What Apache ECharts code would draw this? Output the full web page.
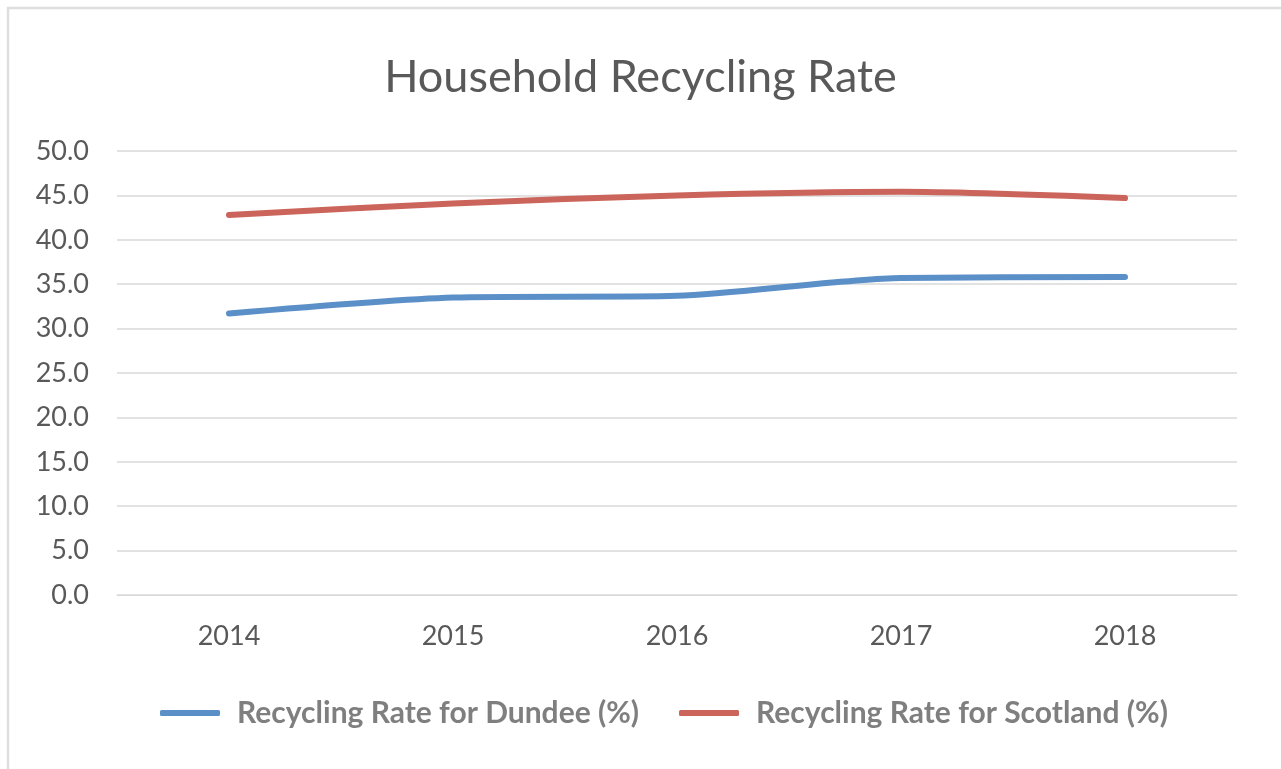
<!DOCTYPE html>
<html><head><meta charset="utf-8">
<script src="https://cdn.jsdelivr.net/npm/echarts@6/dist/echarts.min.js"></script>
<style>html,body{margin:0;padding:0;background:#fff}#c{width:1281px;height:769px}</style>
</head><body><div id="c"></div>
<script>
const years = ['2014','2015','2016','2017','2018'];
const dundee = [31.7, 33.5, 33.7, 35.7, 35.8];
const scotland = [42.8, 44.1, 45.0, 45.4, 44.7];
const seriesNames = ['Recycling Rate for Dundee (%)', 'Recycling Rate for Scotland (%)'];
const titleText = 'Household Recycling Rate';

const chart = echarts.init(document.getElementById('c'));
const font = 'Lato, "Open Sans", sans-serif';
chart.setOption({
  animation: false,
  backgroundColor: '#fff',
  graphic: [{type: 'rect', shape: {x: 8, y: 8, width: 1400, height: 900},
    style: {fill: 'none', stroke: '#dedede', lineWidth: 2.5}, silent: true}],
  title: {text: titleText, left: 'center', top: 50,
    textStyle: {fontFamily: font, fontSize: 45, fontWeight: 'normal', color: '#595959'}},
  grid: {left: 117, right: 44, top: 151, bottom: 174},
  legend: {bottom: 36, left: 155, itemWidth: 60, itemHeight: 6, itemGap: 40,
    icon: 'roundRect',
    textStyle: {fontFamily: font, fontSize: 30, fontWeight: 'bold', color: '#7f7f7f', padding: [0, 0, 0, 12]},
    data: seriesNames},
  xAxis: {type: 'category', data: years, boundaryGap: true,
    axisLine: {show: true, lineStyle: {color: '#d9d9d9'}}, axisTick: {show: false},
    axisLabel: {fontFamily: font, fontSize: 27, color: '#595959', margin: 28}},
  yAxis: {type: 'value', min: 0, max: 50, interval: 5,
    axisLine: {show: false}, axisTick: {show: false},
    splitLine: {lineStyle: {color: '#d9d9d9', width: 1.5}},
    axisLabel: {fontFamily: font, fontSize: 27, color: '#595959', margin: 28,
      formatter: v => v.toFixed(1)}},
  series: [
    {name: seriesNames[0], type: 'line', data: dundee, smooth: 0.25, symbol: 'none',
      lineStyle: {width: 6, color: '#5b8fc7', cap: 'round'}, itemStyle: {color: '#5b8fc7'}},
    {name: seriesNames[1], type: 'line', data: scotland, smooth: 0.25, symbol: 'none',
      lineStyle: {width: 6, color: '#cb645a', cap: 'round'}, itemStyle: {color: '#cb645a'}}
  ]
});
</script></body></html>
